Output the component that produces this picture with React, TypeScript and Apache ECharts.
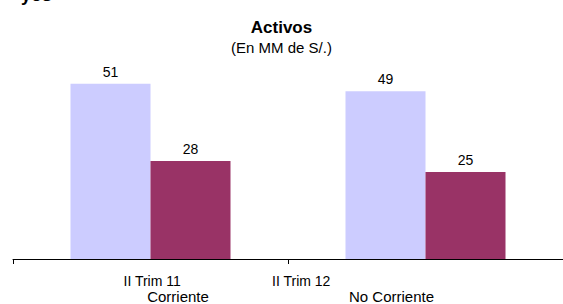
import React, { useEffect, useRef } from "react";
import * as echarts from "echarts";

const categories = ["Corriente", "No Corriente"];
const seriesNames = ["II Trim 11", "II Trim 12"];
const trim11 = [50.8, 48.6];
const trim12 = [28.4, 25.2];
const titleText = "Activos";
const subtitleText = "(En MM de S/.)";
const cutHeading = "yos";

const FONT = "Arial, 'Liberation Sans', sans-serif";

export default function App() {
  const ref = useRef<HTMLDivElement>(null);
  useEffect(() => {
    if (!ref.current) return;
    const chart = echarts.init(ref.current, null, { renderer: "svg" });
    const labelCfg = {
      show: true,
      position: "top",
      distance: 5,
      color: "#000",
      fontSize: 14,
      fontFamily: FONT,
      formatter: (p: any) => String(Math.round(p.value)),
    };
    chart.setOption({
      animation: false,
      backgroundColor: "#fff",
      textStyle: { fontFamily: FONT },
      title: {
        text: titleText,
        subtext: subtitleText,
        left: "center",
        top: 14,
        itemGap: 4,
        textStyle: { fontSize: 17, fontWeight: "bold", color: "#000", fontFamily: FONT },
        subtextStyle: { fontSize: 15, color: "#000", fontFamily: FONT },
      },
      legend: {
        data: seriesNames,
        left: 113.5,
        top: 269,
        itemWidth: 0,
        itemHeight: 14,
        itemGap: 86,
        selectedMode: false,
        itemStyle: { opacity: 0 },
        textStyle: { fontSize: 14, color: "#000", fontFamily: FONT },
      },
      grid: { left: 13, right: -4, top: 52, bottom: 43, containLabel: false },
      xAxis: {
        type: "category",
        data: categories,
        axisLine: { show: true, lineStyle: { color: "#000", width: 1 } },
        axisTick: { show: true, length: 5, lineStyle: { color: "#000" } },
        axisLabel: {
          margin: 30,
          fontSize: 15,
          color: "#000",
          fontFamily: FONT,
          interval: 0,
          formatter: (v: string, i: number) => (i === 0 ? `{a|${v}}` : `{b|${v}}`),
          rich: {
            a: { padding: [0, 0, 0, 55], fontSize: 15, color: "#000", fontFamily: FONT },
            b: { padding: [0, 68, 0, 0], fontSize: 15, color: "#000", fontFamily: FONT },
          },
        },
      },
      yAxis: {
        type: "value",
        min: 0,
        max: 60,
        show: false,
        splitLine: { show: false },
      },
      graphic: [
        {
          type: "text",
          left: 21,
          y: -5,
          style: {
            text: cutHeading,
            font: `bold 18px ${FONT}`,
            fill: "#000",
            verticalAlign: "middle",
          },
        },
      ],
      series: [
        {
          name: seriesNames[0],
          type: "bar",
          data: trim11,
          barWidth: 80,
          barGap: "0%",
          itemStyle: { color: "#CCCCFF" },
          label: labelCfg,
        },
        {
          name: seriesNames[1],
          type: "bar",
          data: trim12,
          barWidth: 80,
          barGap: "0%",
          itemStyle: { color: "#993366" },
          label: labelCfg,
        },
      ],
    });
    return () => chart.dispose();
  }, []);
  return (
    <div
      ref={ref}
      style={{ position: "fixed", left: 0, top: 0, width: 563, height: 304 }}
    />
  );
}
